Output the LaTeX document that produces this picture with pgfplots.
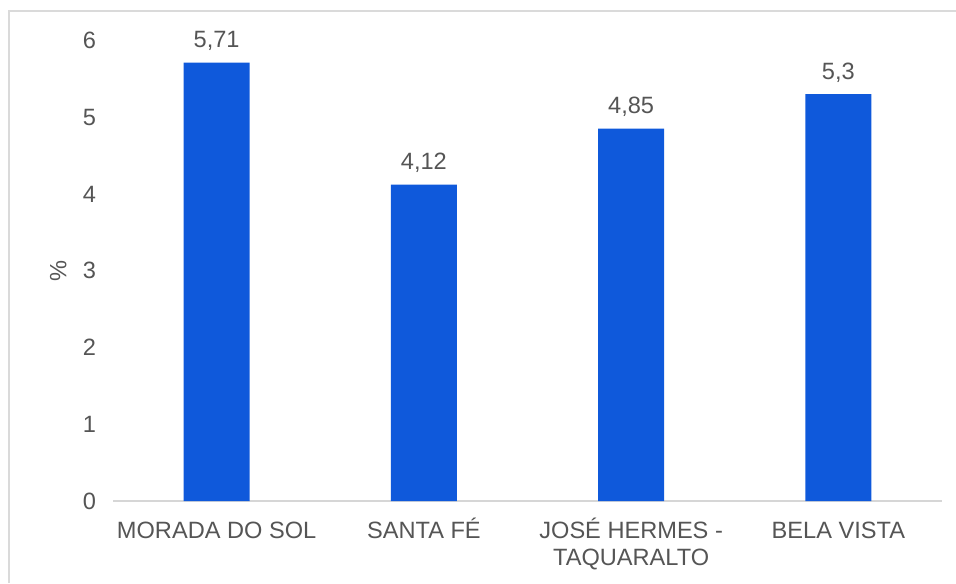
\documentclass[border=0pt]{standalone}
\usepackage{fontspec}
\setmainfont{Liberation Sans}
\usepackage{pgfplots}
\pgfplotsset{compat=1.18}
\definecolor{barblue}{HTML}{0F59DB}
\definecolor{txtgray}{HTML}{555555}
\definecolor{axgray}{HTML}{D6D6D6}
\definecolor{framegray}{HTML}{DADADA}

\begin{document}
\begin{tikzpicture}
\path[use as bounding box] (0,0) rectangle (478pt,291.5pt);
% chart frame (cut off at right and bottom)
\draw[framegray, line width=0.8pt] (4.5pt,0) -- (4.5pt,286pt) -- (478pt,286pt);
\begin{axis}[
    at={(56.5pt,41pt)}, anchor=south west,
    scale only axis,
    width=414.5pt, height=230.3pt,
    xmin=-0.5, xmax=3.5,
    ymin=0, ymax=6,
    ytick={0,1,2,3,4,5,6},
    xtick={0,1,2,3},
    xticklabels={\vphantom{É}MORADA DO SOL, SANTA FÉ, {JOSÉ HERMES -\\TAQUARALTO}, \vphantom{É}BELA VISTA},
    xticklabel style={align=center, text=txtgray, font=\fontsize{11.8}{13.4}\selectfont, yshift=-5pt},
    yticklabel style={text=txtgray, font=\fontsize{11.8}{14}\selectfont, xshift=-5pt},
    ylabel={\%},
    every axis y label/.style={at={(axis description cs:-0.066,0.5)}, rotate=90, anchor=center,
        text=txtgray, font=\fontsize{11.8}{14}\selectfont},
    major tick length=0pt,
    axis y line*=left,
    axis x line*=bottom,
    y axis line style={draw=none},
    x axis line style={axgray, line width=0.8pt, -},
    ytick style={draw=none}, xtick style={draw=none},
    /pgf/number format/assume math mode=true,
    clip=false,
    ybar, bar width=33pt,
    nodes near coords,
    nodes near coords style={text=txtgray, font=\fontsize{11.8}{14}\selectfont, yshift=2.5pt,
        /pgf/number format/.cd, use comma, fixed, precision=2, assume math mode=true},
]
\addplot[fill=barblue, draw=none] coordinates {(0,5.71) (1,4.12) (2,4.85) (3,5.3)};
\end{axis}
\end{tikzpicture}
\end{document}
